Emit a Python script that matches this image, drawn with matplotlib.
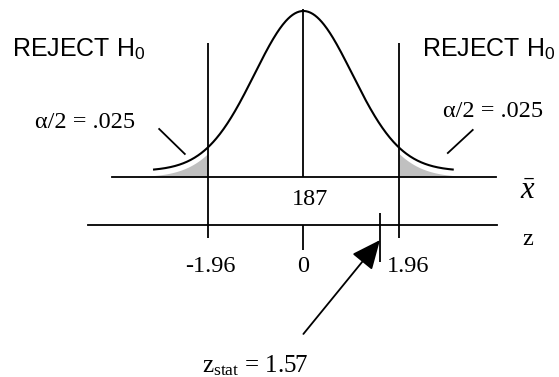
import numpy as np
import matplotlib
matplotlib.use("Agg")
import matplotlib.pyplot as plt

# Test of a mean: two-tailed rejection regions on the sampling distribution
mean_value = 187
alpha = 0.05
critical_z = [-1.96, 1.96]
z_ticks = [-1.96, 0, 1.96]
z_tick_labels = ["-1.96", "0", "1.96"]
z_stat = 1.57

plt.rcParams["mathtext.fontset"] = "custom"
plt.rcParams["mathtext.rm"] = "Liberation Serif"
plt.rcParams["mathtext.it"] = "Liberation Serif:italic"
plt.rcParams["mathtext.sf"] = "Liberation Sans"

SERIF = "Liberation Serif"
SANS = "Liberation Sans"
LW = 1.3

fig = plt.figure(figsize=(5.59, 3.77), dpi=100)
ax = fig.add_axes([0, 0, 1, 1])
ax.set_xlim(-6.217, 5.238)
ax.set_ylim(-1.25, 1.10625)
ax.axis("off")


def density(z):
    """Normal density scaled to 1 at the mean."""
    return np.exp(-np.asarray(z) ** 2 / 2.0)


# shaded tail areas
for c in critical_z:
    zz = np.linspace(c, np.sign(c) * 3.4, 200)
    ax.fill_between(zz, 0, density(zz), color="#c0c0c0", lw=0, zorder=1)

# bell curve
zc = np.linspace(-3.06, 3.06, 400)
ax.plot(zc, 0.0375 + density(zc), color="black", lw=1.5, zorder=3)

# sample-mean axis and z axis
x_axis_y, z_axis_y = 0.0, -0.30
ax.plot([-3.92, 3.94], [x_axis_y, x_axis_y], color="black", lw=LW, zorder=2)
ax.plot([-4.41, 3.97], [z_axis_y, z_axis_y], color="black", lw=LW, zorder=2)

# critical value lines and the centre line
ax.vlines(critical_z, -0.381, 0.8375, color="black", lw=LW, zorder=3)
ax.vlines(0, x_axis_y, 1.05, color="black", lw=LW, zorder=3)
for t in z_ticks:
    if t not in critical_z:
        ax.vlines(t, -0.456, z_axis_y, color="black", lw=LW, zorder=3)

# z tick labels
label_shift = [0.05, 0.0, 0.19]
for t, lab, dx in zip(z_ticks, z_tick_labels, label_shift):
    ax.text(t + dx, -0.594, lab, ha="center", va="baseline",
            fontsize=17.5, family=SERIF)

# mean label under the sample-mean axis
ax.text(0.135, -0.175, f"{mean_value}", ha="center", va="baseline",
        fontsize=17.5, family=SERIF)

# axis names
ax.text(4.60, -0.085, r"$\bar{x}$", ha="center", va="center", fontsize=22)
ax.text(4.60, -0.39, "z", ha="center", va="center", fontsize=17.5, family=SERIF)

# rejection region headings
ax.text(-5.97, 0.756, r"REJECT H$_{\mathsf{0}}$", ha="left", va="baseline",
        fontsize=18, family=SANS)
ax.text(2.43, 0.756, r"REJECT H$_{\mathsf{0}}$", ha="left", va="baseline",
        fontsize=18, family=SANS)

# tail-area labels with leader lines
tail_text = "\u03b1/2 = " + f"{alpha / 2:.3f}".lstrip("0")
ax.text(-5.50, 0.306, tail_text, ha="left", va="baseline",
        fontsize=17.5, family=SERIF)
ax.text(2.86, 0.375, tail_text, ha="left", va="baseline",
        fontsize=17.5, family=SERIF)
ax.plot([-2.955, -2.43], [0.30, 0.144], color="black", lw=LW)
ax.plot([3.47, 2.96], [0.294, 0.15], color="black", lw=LW)

# test statistic tick, arrow and label
ax.vlines(z_stat, -0.531, -0.225, color="black", lw=LW, zorder=3)
ax.annotate("", xy=(z_stat, -0.394), xytext=(0.0, -0.981),
            arrowprops=dict(arrowstyle="-|>,head_length=0.9,head_width=0.4",
                            mutation_scale=20, color="black", lw=LW,
                            shrinkA=0, shrinkB=0))
ax.text(-2.078, -1.219, r"$\mathrm{z_{stat}}$ = " + f"{z_stat}",
        ha="left", va="baseline", fontsize=18, family=SERIF)

fig.savefig("out.png", dpi=100)
